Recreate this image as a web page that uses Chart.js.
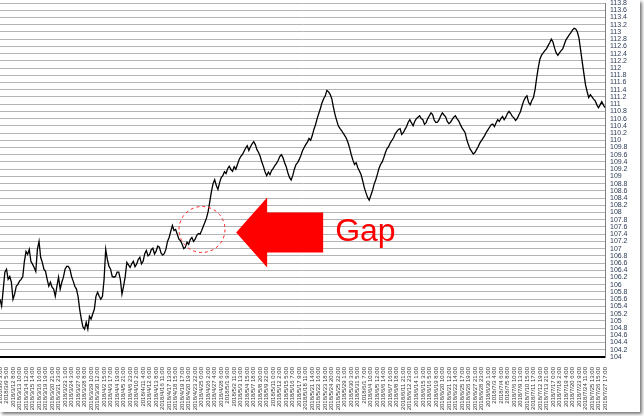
<!DOCTYPE html>
<html><head><meta charset="utf-8">
<script src="https://cdn.jsdelivr.net/npm/chart.js@4/dist/chart.umd.min.js"></script>
<style>
html,body{margin:0;padding:0;background:#fff;overflow:hidden}
#wrap{position:absolute;left:0;top:0;width:640px;height:412px;box-shadow:2px 2px 3px rgba(0,0,0,0.55);background:#fff}
canvas{display:block}
</style></head><body>
<div id="wrap"><canvas id="c" width="640" height="412"></canvas></div>
<script>
const xLabels = [
"2018/3/8 3:00","2018/3/9 5:00","2018/3/12 8:00","2018/3/13 10:00","2018/3/14 12:00","2018/3/15 14:00","2018/3/16 16:00","2018/3/19 19:00","2018/3/20 21:00","2018/3/21 23:00",
"2018/3/23 1:00","2018/3/24 3:00","2018/3/27 6:00","2018/3/28 8:00","2018/3/29 10:00","2018/3/30 12:00","2018/4/2 15:00","2018/4/3 17:00","2018/4/4 19:00","2018/4/5 21:00",
"2018/4/6 23:00","2018/4/10 2:00","2018/4/11 4:00","2018/4/12 6:00","2018/4/13 8:00","2018/4/16 11:00","2018/4/17 13:00","2018/4/18 15:00","2018/4/19 17:00","2018/4/20 19:00",
"2018/4/23 22:00","2018/4/25 0:00","2018/4/26 2:00","2018/4/27 4:00","2018/4/28 6:00","2018/5/1 9:00","2018/5/2 11:00","2018/5/3 13:00","2018/5/4 15:00","2018/5/7 18:00",
"2018/5/8 20:00","2018/5/9 22:00","2018/5/11 0:00","2018/5/12 2:00","2018/5/15 5:00","2018/5/16 7:00","2018/5/17 9:00","2018/5/18 11:00","2018/5/21 14:00","2018/5/22 16:00",
"2018/5/23 18:00","2018/5/24 20:00","2018/5/25 22:00","2018/5/29 1:00","2018/5/30 3:00","2018/5/31 5:00","2018/6/1 7:00","2018/6/4 10:00","2018/6/5 12:00","2018/6/6 14:00",
"2018/6/7 16:00","2018/6/8 18:00","2018/6/11 21:00","2018/6/12 23:00","2018/6/14 1:00","2018/6/15 3:00","2018/6/16 5:00","2018/6/19 8:00","2018/6/20 10:00","2018/6/21 12:00",
"2018/6/22 14:00","2018/6/25 17:00","2018/6/26 19:00","2018/6/27 21:00","2018/6/28 23:00","2018/6/30 1:00","2018/7/3 4:00","2018/7/4 6:00","2018/7/5 8:00","2018/7/6 10:00",
"2018/7/9 13:00","2018/7/10 15:00","2018/7/11 17:00","2018/7/12 19:00","2018/7/13 21:00","2018/7/17 0:00","2018/7/18 2:00","2018/7/19 4:00","2018/7/20 6:00","2018/7/23 9:00",
"2018/7/24 11:00","2018/7/25 13:00","2018/7/26 15:00","2018/7/27 17:00"
];
const pointsPerLabel = 4;
const prices = [
105.60,105.41,105.88,106.35,106.43,106.15,106.23,106.07,105.60,105.74,
105.96,106.01,106.10,106.15,106.23,106.65,106.92,106.84,106.98,106.65,
106.57,106.48,106.37,106.98,107.20,106.76,106.62,106.43,106.37,106.15,
105.96,106.07,105.93,105.88,105.68,105.96,106.21,105.88,106.07,106.21,
106.43,106.51,106.51,106.43,106.23,106.10,105.96,105.88,105.68,105.32,
105.05,104.83,104.77,104.96,104.77,105.13,105.05,105.19,105.32,105.68,
105.79,105.68,105.60,105.68,106.15,106.98,106.70,106.51,106.43,106.23,
106.21,106.23,106.35,106.35,106.15,105.74,105.96,106.23,106.62,
106.55,106.48,106.58,106.65,106.50,106.57,106.70,106.76,106.58,106.65,
106.86,106.95,106.80,106.84,106.97,107.01,106.85,106.93,107.07,107.04,
106.88,106.82,106.86,106.98,107.20,107.31,107.48,107.64,107.50,107.53,
107.40,107.26,107.22,107.12,107.00,107.04,107.18,107.12,107.25,107.31,
107.20,107.26,107.37,107.42,107.40,107.50,107.62,107.73,107.85,108.03,
108.30,108.58,108.80,108.91,108.75,108.64,108.82,108.97,109.02,109.13,
109.08,109.22,109.28,109.19,109.14,109.27,109.20,109.33,109.46,109.55,
109.60,109.69,109.78,109.85,109.72,109.82,109.90,109.96,109.88,109.74,
109.66,109.55,109.40,109.27,109.12,109.02,109.12,109.05,109.16,109.22,
109.30,109.36,109.44,109.55,109.60,109.52,109.38,109.27,109.10,108.97,
108.90,109.02,109.20,109.33,109.38,109.47,109.58,109.71,109.80,109.88,
109.95,110.05,110.00,110.13,110.30,110.43,110.60,110.74,110.88,111.04,
111.15,111.23,111.38,111.34,111.27,111.15,110.92,110.71,110.55,110.40,
110.33,110.27,110.20,110.13,110.05,109.93,109.78,109.60,109.45,109.33,
109.38,109.24,109.15,109.05,108.88,108.69,108.55,108.42,108.34,108.47,
108.60,108.78,108.90,109.05,109.22,109.33,109.40,109.52,109.66,109.77,
109.83,109.93,110.00,110.07,110.18,110.24,110.30,110.32,110.16,110.21,
110.30,110.38,110.50,110.57,110.48,110.40,110.52,110.60,110.64,110.68,
110.60,110.57,110.44,110.49,110.60,110.68,110.76,110.71,110.56,110.49,
110.50,110.57,110.68,110.76,110.70,110.65,110.52,110.46,110.50,110.57,
110.64,110.68,110.60,110.54,110.44,110.35,110.28,110.21,110.02,109.88,
109.76,109.69,109.62,109.66,109.74,109.82,109.92,109.99,110.06,110.13,
110.22,110.29,110.36,110.43,110.45,110.38,110.48,110.57,110.52,110.60,
110.66,110.57,110.64,110.74,110.80,110.74,110.66,110.62,110.55,110.60,
110.70,110.79,110.95,111.09,111.18,111.23,111.05,110.98,111.10,111.18,
111.40,111.73,112.02,112.25,112.36,112.42,112.48,112.53,112.62,112.70,
112.80,112.72,112.55,112.42,112.35,112.42,112.48,112.53,112.66,112.78,
112.85,112.92,112.98,113.05,113.10,113.08,113.00,112.83,112.50,112.17,
111.85,111.54,111.35,111.18,111.26,111.20,111.14,111.09,110.98,110.90,
110.98,111.07,110.98,110.90
];
const yMin = 104, yMax = 113.8, yStep = 0.2;
const gapNote = { text: "Gap", circleAt: [31.05, 107.53], arrowTipAt: [36.3, 107.45] };

const points = prices.map((p, i) => ({ x: i / pointsPerLabel, y: p }));

const annot = {
  id: 'annot',
  afterDatasetsDraw(chart) {
    const { ctx, scales: { x, y } } = chart;
    ctx.save();
    const cx = x.getPixelForValue(gapNote.circleAt[0]);
    const cy = y.getPixelForValue(gapNote.circleAt[1]);
    ctx.strokeStyle = '#ff2020';
    ctx.lineWidth = 1;
    ctx.setLineDash([3, 3]);
    ctx.beginPath();
    ctx.arc(cx, cy, 23, 0, Math.PI * 2);
    ctx.stroke();
    ctx.setLineDash([]);
    const tx = x.getPixelForValue(gapNote.arrowTipAt[0]);
    const ty = y.getPixelForValue(gapNote.arrowTipAt[1]);
    const headLen = 31, headHalf = 35, shaftHalf = 20, shaftLen = 56;
    ctx.fillStyle = '#ff0000';
    ctx.beginPath();
    ctx.moveTo(tx, ty);
    ctx.lineTo(tx + headLen, ty - headHalf);
    ctx.lineTo(tx + headLen, ty - shaftHalf);
    ctx.lineTo(tx + headLen + shaftLen, ty - shaftHalf);
    ctx.lineTo(tx + headLen + shaftLen, ty + shaftHalf);
    ctx.lineTo(tx + headLen, ty + shaftHalf);
    ctx.lineTo(tx + headLen, ty + headHalf);
    ctx.closePath();
    ctx.fill();
    ctx.fillStyle = '#ff0000';
    ctx.font = '32px "Liberation Sans", Arial, sans-serif';
    ctx.textBaseline = 'middle';
    ctx.textAlign = 'left';
    ctx.fillText(gapNote.text, tx + headLen + shaftLen + 12, ty);
    ctx.restore();
  }
};

Chart.defaults.font.family = '"Liberation Sans", Arial, sans-serif';
new Chart(document.getElementById('c'), {
  type: 'line',
  data: {
    datasets: [{
      data: points,
      borderColor: '#000',
      borderWidth: 1.3,
      pointRadius: 0,
      tension: 0,
      fill: false
    }]
  },
  options: {
    responsive: false,
    animation: false,
    devicePixelRatio: 1,
    layout: { padding: { top: 3, left: 0, right: 0, bottom: 0 } },
    plugins: { legend: { display: false }, tooltip: { enabled: false } },
    scales: {
      x: {
        type: 'linear',
        min: 0,
        max: xLabels.length - 1,
        afterBuildTicks(s) { s.ticks = xLabels.map((_, i) => ({ value: i })); },
        afterFit(s) { s.height = 55; s.paddingLeft = 0; s.paddingRight = 0; },
        ticks: {
          autoSkip: false,
          maxRotation: 90,
          minRotation: 90,
          padding: 2,
          color: '#333',
          font: { size: 6 },
          callback: (v) => xLabels[v]
        },
        grid: { display: false },
        border: { display: true, color: '#000', width: 2 }
      },
      y: {
        position: 'right',
        min: yMin,
        max: yMax,
        afterBuildTicks(s) {
          const t = [];
          for (let v = yMin; v <= yMax + 1e-9; v += yStep) t.push({ value: Math.round(v * 10) / 10 });
          s.ticks = t;
        },
        afterFit(s) { s.width = 35; s.paddingTop = 0; s.paddingBottom = 0; },
        ticks: {
          autoSkip: false,
          padding: 5,
          color: '#2a3a55',
          font: { size: 7 },
          callback: (v) => String(Math.round(v * 10) / 10)
        },
        grid: { color: '#b4b4b4', lineWidth: 1, drawTicks: false },
        border: { display: true, color: '#808080', width: 1 }
      }
    }
  },
  plugins: [annot]
});
</script>
</body></html>
